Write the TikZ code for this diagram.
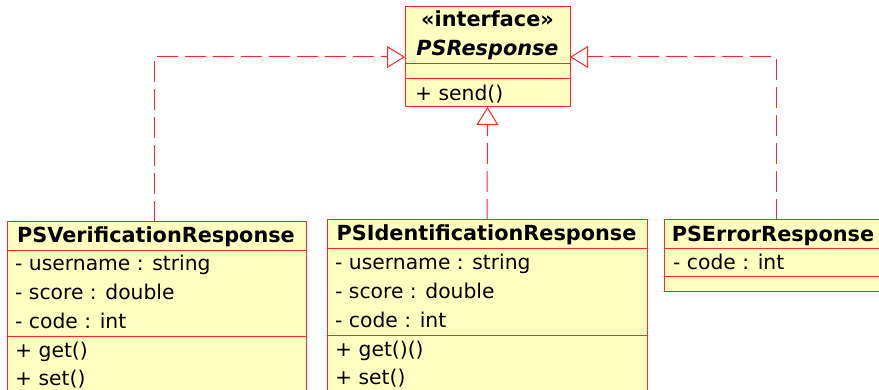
\documentclass[tikz,border=0pt]{standalone}
\usepackage{fontspec}
\setmainfont{DejaVu Sans}
\usetikzlibrary{arrows.meta}
\definecolor{umlred}{RGB}{255,40,40}
\definecolor{umlfill}{RGB}{255,255,192}
\begin{document}
\begin{tikzpicture}[x=1pt,y=-1pt,
  cls/.style={draw=umlred, fill=umlfill, line width=1pt, anchor=north west, inner sep=0pt, outer sep=0pt},
  txt/.style={anchor=base west, inner sep=0pt, font=\fontsize{20.3}{24}\selectfont},
  ttl/.style={anchor=base, inner sep=0pt, font=\fontsize{20.8}{24}\selectfont\bfseries},
  sep/.style={draw=umlred, line width=1pt},
  real/.style={draw=umlred, line width=1pt, dash pattern=on 21pt off 7pt, -{Triangle[open, length=18pt, width=22pt, fill=white]}}
]
\useasboundingbox (0,0) rectangle (879,390);
\clip (0,0) rectangle (879,390);
% boxes
\node[cls, minimum width=165pt, minimum height=100pt] (iface) at (405,7) {};
\node[cls, minimum width=299pt, minimum height=200pt] (verif) at (7,222) {};
\node[cls, minimum width=320pt, minimum height=200pt] (ident) at (327,220) {};
\node[cls, minimum width=220pt, minimum height=72pt] (err) at (664,220) {};
% separators
\draw[sep] (405,64) -- (570,64);
\draw[sep] (405,79) -- (570,79);
\draw[sep] (7,251) -- (306,251);
\draw[sep] (7,337) -- (306,337);
\draw[sep] (327,249) -- (647,249);
\draw[sep] (327,336) -- (647,336);
\draw[sep] (664,249) -- (884,249);
\draw[sep] (664,277) -- (884,277);
% interface texts
\node[ttl] (ifst) at (487.5,27) {«interface»};
\node[ttl, font=\fontsize{20.8}{24}\selectfont\bfseries\itshape] (ifname) at (487.5,55.5) {PSResponse};
\node[txt] (ifop) at (415,100.5) {+ send()};
% verification
\node[ttl] (vt) at (156,242.5) {PSVerificationResponse};
\node[txt] (va1) at (15,271) {- username : string};
\node[txt] (va2) at (15,299.5) {- score : double};
\node[txt] (va3) at (15,328.5) {- code : int};
\node[txt] (vo1) at (15,357) {+ get()};
\node[txt] (vo2) at (15,385.5) {+ set()};
% identification
\node[ttl] (it) at (486.5,241) {PSIdentificationResponse};
\node[txt] (ia1) at (335,270) {- username : string};
\node[txt] (ia2) at (335,298.5) {- score : double};
\node[txt] (ia3) at (335,327) {- code : int};
\node[txt] (io1) at (335,356) {+ get()()};
\node[txt] (io2) at (335,384.5) {+ set()};
% error
\node[ttl] (et) at (773,242) {PSErrorResponse};
\node[txt] (ea1) at (673,269.5) {- code : int};
% realizations
\coordinate (vtop) at ([xshift=-2.5pt]verif.north);
\draw[real] (vtop) |- (iface.west);
\draw[real] (ident.north) -- (iface.south);
\coordinate (etop) at ([xshift=2pt]err.north);
\draw[real] (etop) |- (iface.east);
\end{tikzpicture}
\end{document}
